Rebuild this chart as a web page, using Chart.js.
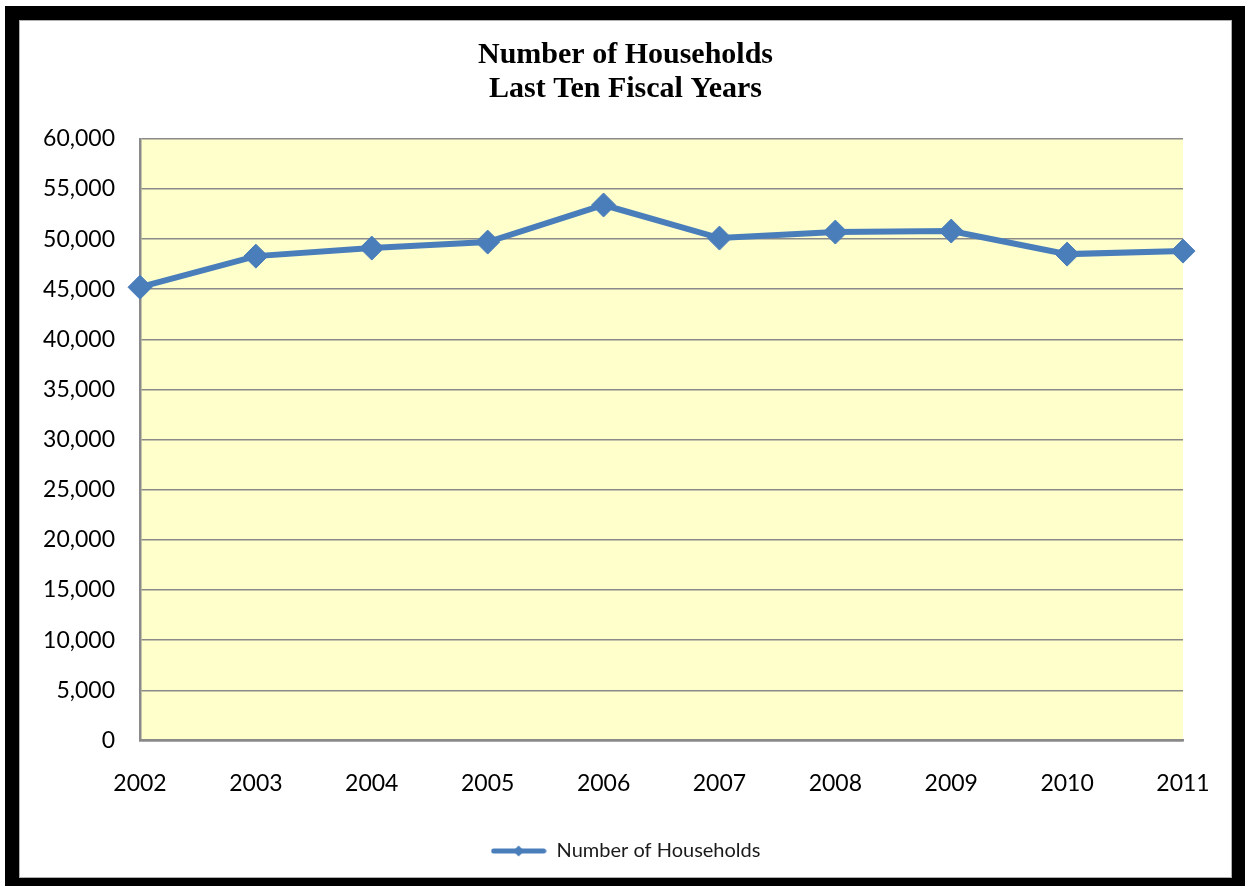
<!DOCTYPE html>
<html>
<head>
<meta charset="utf-8">
<title>Number of Households</title>
<script src="https://cdn.jsdelivr.net/npm/chart.js@4/dist/chart.umd.min.js"></script>
<style>
    html, body { margin: 0; padding: 0; background: #ffffff; overflow: hidden; width: 1245px; height: 886px; }
    .frame {
        position: absolute; left: 5px; top: 6px;
        width: 1213px; height: 858px;
        border: 14px solid #000000;
        background: #ffffff;
    }
    .inner { position: absolute; left: 0; top: 0; width: 1213px; height: 858px; box-shadow: inset 0 0 0 1px #b0b0b0; }
    canvas { position: absolute; left: 0; top: 0; }
</style>
</head>
<body>
<div class="frame">
    <canvas id="householdsChart" width="1213" height="858"></canvas>
    <div class="inner"></div>
</div>
<script>
    // fiscal years and household counts
    const years = ['2002', '2003', '2004', '2005', '2006', '2007', '2008', '2009', '2010', '2011'];
    const households = [45200, 48300, 49100, 49700, 53400, 50100, 50700, 50800, 48500, 48800];
    const seriesName = 'Number of Households';
    const titleLines = ['Number of Households', 'Last Ten Fiscal Years'];

    const yMin = 0;
    const yMax = 60000;
    const yStep = 5000;

    const lineColor = '#4a7ebb';
    const gridColor = '#8a8a8a';

    // legend marker: short line with a small diamond in the middle
    function legendMarker() {
        let c = document.createElement('canvas');
        c.width = 56;
        c.height = 14;
        let g = c.getContext('2d');
        g.strokeStyle = lineColor;
        g.lineWidth = 5;
        g.lineCap = 'round';
        g.beginPath();
        g.moveTo(3, 7);
        g.lineTo(53, 7);
        g.stroke();
        g.fillStyle = lineColor;
        g.beginPath();
        g.moveTo(28, 1.5);
        g.lineTo(33.5, 7);
        g.lineTo(28, 12.5);
        g.lineTo(22.5, 7);
        g.closePath();
        g.fill();
        return c;
    }

    // pale yellow plot area
    const plotBackground = {
        id: 'plotBackground',
        beforeDraw(chart) {
            let {ctx, chartArea} = chart;
            ctx.save();
            ctx.fillStyle = '#ffffcc';
            ctx.fillRect(chartArea.left, chartArea.top, chartArea.right - chartArea.left, chartArea.bottom - chartArea.top);
            ctx.restore();
        }
    };

    const marker = legendMarker();
    let ctx = document.getElementById('householdsChart');

    new Chart(ctx, {
        type: 'line',
        data: {
            labels: years,
            datasets: [{
                label: seriesName,
                data: households,
                borderColor: lineColor,
                backgroundColor: lineColor,
                borderWidth: 6,
                tension: 0,
                fill: false,
                pointStyle: 'rectRot',
                pointRadius: 12,
                pointHoverRadius: 12,
                pointBackgroundColor: lineColor,
                pointBorderColor: lineColor,
                pointBorderWidth: 1,
                clip: false
            }]
        },
        options: {
            responsive: false,
            animation: false,
            layout: {
                padding: {left: 0, right: 0, top: 0, bottom: 7}
            },
            scales: {
                x: {
                    type: 'category',
                    offset: false,
                    // invisible tick marks keep the year labels well below the axis
                    grid: {display: true, color: 'transparent', drawOnChartArea: false, drawTicks: true, tickLength: 26, tickColor: 'transparent'},
                    border: {display: true, color: gridColor, width: 2.5},
                    ticks: {
                        color: '#000000',
                        font: {family: 'Lato', size: 23},
                        padding: 3,
                        maxRotation: 0,
                        autoSkip: false
                    }
                },
                y: {
                    position: 'left',
                    min: yMin,
                    max: yMax,
                    grid: {color: gridColor, lineWidth: 1.5, drawTicks: false},
                    border: {display: true, color: gridColor, width: 2.5},
                    ticks: {
                        stepSize: yStep,
                        color: '#000000',
                        font: {family: 'Lato', size: 23},
                        padding: 25,
                        callback: function(value) {
                            return value.toLocaleString('en-US');
                        }
                    },
                    afterFit: function(scale) {
                        scale.width = 121;
                    }
                },
                // empty axis that only keeps a margin on the right
                spacer: {
                    type: 'linear',
                    position: 'right',
                    grid: {display: false, drawTicks: false},
                    border: {display: false},
                    ticks: {display: false},
                    afterFit: function(scale) {
                        scale.width = 49;
                    }
                }
            },
            plugins: {
                title: {
                    display: true,
                    text: titleLines,
                    color: '#000000',
                    font: {family: 'Liberation Serif', size: 30, weight: 'bold', lineHeight: 1.147},
                    padding: {top: 18, bottom: 32}
                },
                legend: {
                    display: true,
                    position: 'bottom',
                    labels: {
                        usePointStyle: true,
                        pointStyleWidth: 56,
                        color: '#1a1a1a',
                        font: {family: 'Lato', size: 20},
                        padding: 41,
                        generateLabels: function(chart) {
                            let items = Chart.defaults.plugins.legend.labels.generateLabels(chart);
                            items.forEach(item => {
                                item.pointStyle = marker;
                            });
                            return items;
                        }
                    }
                },
                tooltip: {enabled: false}
            }
        },
        plugins: [plotBackground]
    });
</script>
</body>
</html>
